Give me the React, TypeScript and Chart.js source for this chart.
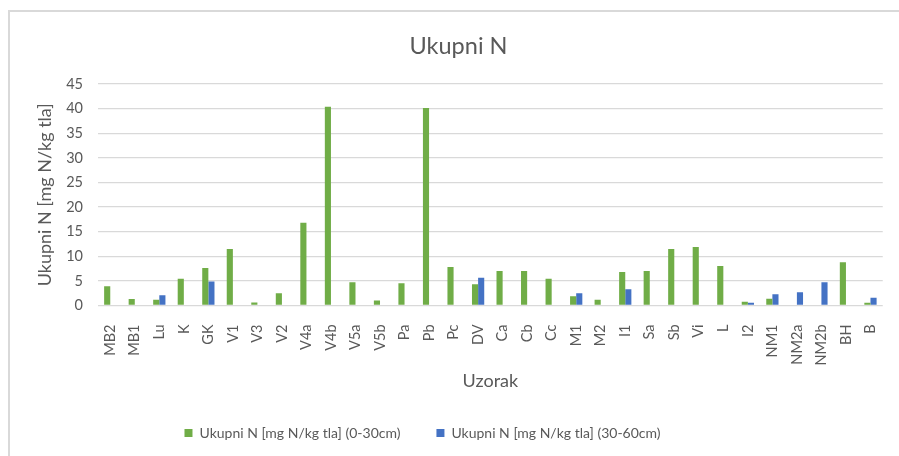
import React, { useEffect, useRef } from "react";
import { Chart, registerables } from "chart.js";

Chart.register(...registerables);

const categories = [
  "MB2", "MB1", "Lu", "K", "GK", "V1", "V3", "V2", "V4a", "V4b", "V5a", "V5b",
  "Pa", "Pb", "Pc", "DV", "Ca", "Cb", "Cc", "M1", "M2", "I1", "Sa", "Sb",
  "Vi", "L", "I2", "NM1", "NM2a", "NM2b", "BH", "B",
];

const topsoil: (number | null)[] = [
  3.9, 1.3, 1.15, 5.45, 7.6, 11.5, 0.6, 2.5, 16.8, 40.4, 4.7, 1.0,
  4.5, 40.1, 7.8, 4.3, 7.0, 7.0, 5.45, 1.9, 1.15, 6.8, 7.0, 11.5,
  11.9, 8.0, 0.75, 1.35, null, null, 8.8, 0.55,
];

const subsoil: (number | null)[] = [
  null, null, 2.1, null, 4.9, null, null, null, null, null, null, null,
  null, null, null, 5.65, null, null, null, 2.5, null, 3.3, null, null,
  null, null, 0.55, 2.3, 2.7, 4.7, null, 1.55,
];

const seriesNames = [
  "Ukupni N [mg N/kg tla] (0-30cm)",
  "Ukupni N [mg N/kg tla] (30-60cm)",
];

const chartTitle = "Ukupni N";
const xTitle = "Uzorak";
const yTitle = "Ukupni N [mg N/kg tla]";

const TEXT = "#595959";
const FONT = "Lato";

// Shift title / legend horizontally to match the reference's placement.
const shiftBlocks = {
  id: "shiftBlocks",
  afterLayout(chart: any) {
    const t = chart.titleBlock;
    if (t) {
      t.left += 13;
      t.right += 13;
    }
    const l = chart.legend;
    if (l) {
      l.left -= 23;
      l.right -= 23;
    }
  },
};

export default function App() {
  const ref = useRef<HTMLCanvasElement | null>(null);

  useEffect(() => {
    if (!ref.current) return;
    const chart = new Chart(ref.current, {
      type: "bar",
      data: {
        labels: categories,
        datasets: [
          {
            label: seriesNames[0],
            data: topsoil,
            backgroundColor: "#70AD47",
            categoryPercentage: 0.5,
            barPercentage: 1,
          },
          {
            label: seriesNames[1],
            data: subsoil,
            backgroundColor: "#4472C4",
            categoryPercentage: 0.5,
            barPercentage: 1,
          },
        ],
      },
      plugins: [shiftBlocks],
      options: {
        responsive: false,
        animation: false,
        layout: { padding: { left: 0, right: 8, top: 0, bottom: 6 } },
        plugins: {
          title: {
            display: true,
            text: chartTitle,
            color: TEXT,
            font: { family: FONT, size: 23.5, weight: "normal" },
            padding: { top: 31.9, bottom: 23.9 },
          },
          legend: {
            position: "bottom",
            labels: {
              color: TEXT,
              font: { family: FONT, size: 14 },
              boxWidth: 8,
              boxHeight: 8,
              padding: 36,
            },
          },
          tooltip: { enabled: false },
        },
        scales: {
          x: {
            grid: { display: false },
            border: { display: false },
            ticks: {
              color: TEXT,
              font: { family: FONT, size: 14.5 },
              minRotation: 90,
              maxRotation: 90,
              autoSkip: false,
              padding: 11,
            },
            title: {
              display: true,
              text: xTitle,
              color: TEXT,
              font: { family: FONT, size: 18 },
              padding: { top: 0, bottom: -2 },
            },
            afterFit: (scale: any) => {
              scale.height = 84.5;
            },
          },
          y: {
            min: 0,
            max: 45,
            grid: { color: "#d9d9d9", lineWidth: 1.3, drawTicks: false },
            border: { display: false },
            ticks: {
              stepSize: 5,
              color: TEXT,
              font: { family: FONT, size: 14.5 },
              padding: 15,
            },
            title: {
              display: true,
              text: yTitle,
              color: TEXT,
              font: { family: FONT, size: 18 },
              padding: { top: 34.2, bottom: 0 },
            },
            afterFit: (scale: any) => {
              scale.width = 98;
            },
          },
        },
      },
    });
    return () => chart.destroy();
  }, []);

  return (
    <div
      style={{
        position: "absolute",
        left: 0,
        top: 0,
        width: 899,
        height: 456,
        background: "#fff",
        overflow: "hidden",
      }}
    >
      <div
        style={{
          position: "absolute",
          left: 8,
          top: 10,
          width: 900,
          height: 460,
          borderLeft: "2px solid #d9d9d9",
          borderTop: "2px solid #d9d9d9",
        }}
      />
      <canvas
        ref={ref}
        width={899}
        height={456}
        style={{ position: "absolute", left: 0, top: 0 }}
      />
    </div>
  );
}
